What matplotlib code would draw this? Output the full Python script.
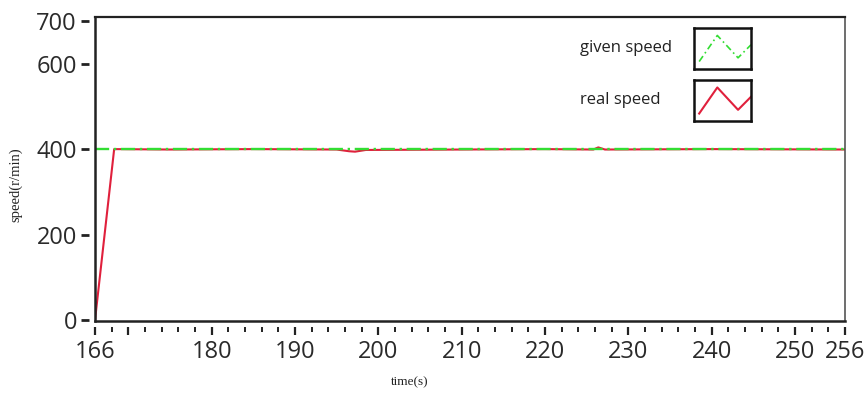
import matplotlib
matplotlib.use("Agg")
import matplotlib.pyplot as plt
from matplotlib.ticker import FixedLocator, MultipleLocator

# speed data (time in s, speed in r/min)
given_time = [166, 256]
given_speed = [400, 400]

real_time = [166.0, 168.3, 175, 185, 195, 196.5, 197.2, 198.5, 210, 220, 225.8, 226.4, 227.2, 240, 256]
real_speed = [0, 400, 399, 400, 399, 395, 394, 398, 399, 400, 399, 404, 399, 400, 399]

x_ticks = [166, 170, 180, 190, 200, 210, 220, 230, 240, 250, 256]
x_tick_labels = ["166", "", "180", "190", "200", "210", "220", "230", "240", "250", "256"]
y_ticks = [0, 200, 400, 600, 700]

legend_labels = ["given speed", "real speed"]
glyph_x = [0, 0.35, 0.75, 1.0]
glyph_y = [0.2, 0.9, 0.3, 0.65]

fig = plt.figure(figsize=(8.66, 3.94), dpi=100)
ax = fig.add_axes([0.1097, 0.1853, 0.8660, 0.7716])

# ticks sit a little away from the axis lines: offset the (hidden) spines
# and draw the axis lines themselves at the frame edge
ax.spines["left"].set_position(("outward", 4))
ax.spines["bottom"].set_position(("outward", 4))
ax.spines["left"].set_visible(False)
ax.spines["bottom"].set_visible(False)
ax.plot([0, 0], [0, 1], transform=ax.transAxes, color="#222222", lw=1.8, clip_on=False, zorder=5)
ax.plot([0, 1], [0, 0], transform=ax.transAxes, color="#222222", lw=1.8, clip_on=False, zorder=5)
ax.spines["top"].set_linewidth(1.6)
ax.spines["top"].set_color("#222222")
ax.spines["right"].set_linewidth(1.2)
ax.spines["right"].set_color("#555555")

ax.plot(real_time, real_speed, color="#e0203c", lw=1.5, zorder=2)
ax.plot(given_time, given_speed, color="#33dd33", lw=1.7, ls=(0, (6, 2, 1, 2)), zorder=3)

ax.set_xlim(166, 256)
ax.set_ylim(-2, 709)
ax.xaxis.set_major_locator(FixedLocator(x_ticks))
ax.xaxis.set_minor_locator(MultipleLocator(2))
ax.yaxis.set_major_locator(FixedLocator(y_ticks))

tick_font = dict(family=["Open Sans", "DejaVu Sans"], size=17, color="#2a2a2a")
ax.set_xticklabels(x_tick_labels, **tick_font)
ax.set_yticklabels([str(t) for t in y_ticks], **tick_font)
ax.tick_params(axis="x", which="major", direction="out", length=6, width=1.6, pad=4, color="#222222")
ax.tick_params(axis="x", which="minor", direction="out", length=3.5, width=1.4, color="#222222")
ax.tick_params(axis="y", which="major", direction="out", length=6, width=2, pad=3, color="#222222")

label_font = dict(family=["Liberation Serif", "DejaVu Serif"], color="#222222")
ax.set_ylabel("speed(r/min)", size=10.5, **label_font)
ax.yaxis.set_label_coords(-(95 - 22) / 750, (321 - 185) / 304)
ax.set_xlabel("time(s)", size=9.5, **label_font)
ax.xaxis.set_label_coords((410 - 95) / 750, -(376 - 321) / 304)

# legend: label text with a boxed zigzag glyph for each series
legend_styles = [dict(color="#33dd33", lw=1.2, ls=(0, (4, 2, 1, 2))),
                 dict(color="#e0203c", lw=1.5, ls="-")]
box_w, box_h = 57 / 866, 41 / 394
box_x = 694 / 866
box_tops = [1 - 28 / 394, 1 - 80 / 394]
for label, style, top in zip(legend_labels, legend_styles, box_tops):
    fig.text(580 / 866, top - box_h / 2, label, ha="left", va="center",
             family=["Open Sans", "DejaVu Sans"], size=12, color="#222222")
    gax = fig.add_axes([box_x, top - box_h, box_w, box_h])
    gax.plot(glyph_x, glyph_y, **style)
    gax.set_xlim(-0.1, 1.0)
    gax.set_ylim(0, 1.1)
    gax.set_xticks([])
    gax.set_yticks([])
    for s in gax.spines.values():
        s.set_linewidth(1.8)
        s.set_color("#111111")

fig.savefig("out.png", dpi=100)
